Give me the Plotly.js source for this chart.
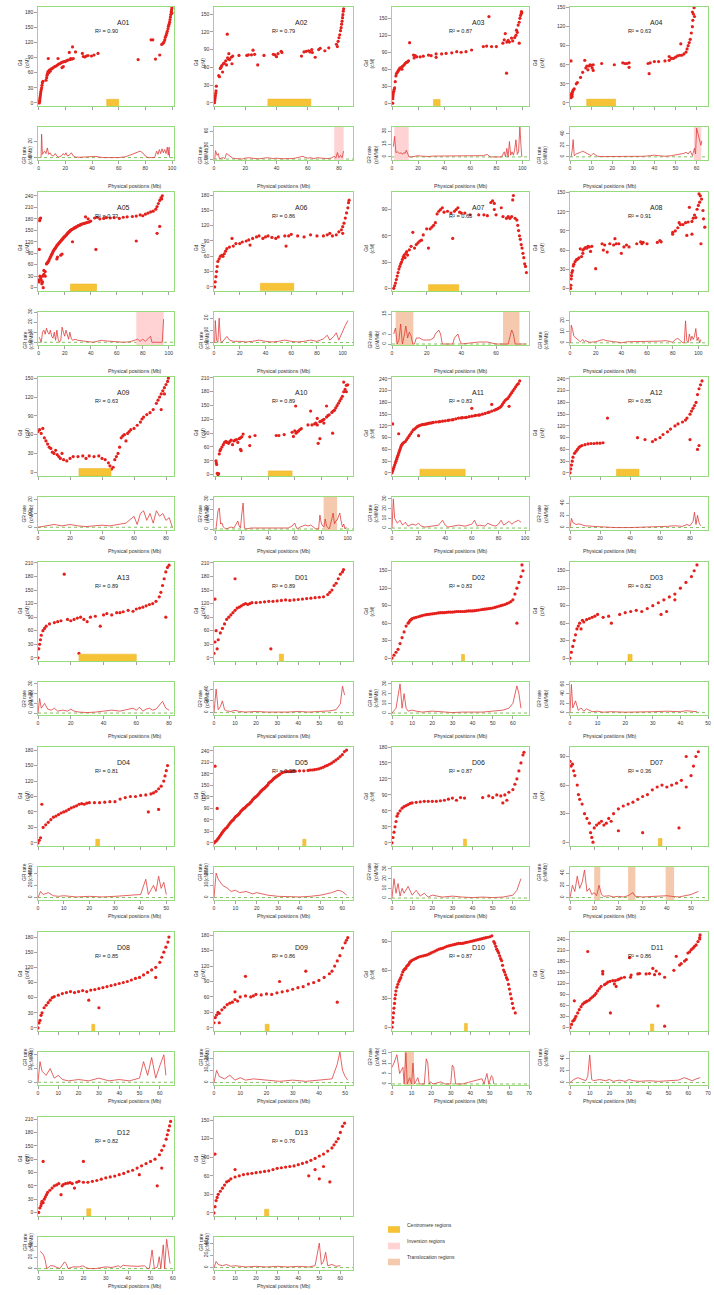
<!DOCTYPE html>
<html><head><meta charset="utf-8">
<script src="https://cdn.plot.ly/plotly-3.0.1.min.js"></script>
<style>body{margin:0;background:#fff}#c{width:714px;height:1295px}</style>
</head><body><div id="c"></div>
<script>
// ---------- DATA: scatter points [Mb, cM] and GR rate lines [Mb, cM/Mb] ----------
const A01 = [[0.5,0],[0.7,3],[0.8,6],[1,10],[1.2,14],[1.4,18],[1.6,22],[1.9,26],[2.2,30],[2.5,35],[2.8,40],[3.2,43],[5.5,45],[6,50],[6.3,55],[6.6,58],[7,62],[7.2,88],[7.6,60],[8,65],[8.7,63],[9.2,67],[10,68],[11,70],[12,72],[13,73],[14,75],[14.5,88],[15,77],[16,78],[17,80],[17.5,70],[18,81],[18.5,72],[19,82],[20,82],[21,84],[22,85],[23,100],[23.5,86],[24,88],[25,87],[25.4,111],[26,88],[27.6,101],[32.8,98],[33.5,92],[34.6,91],[35.8,93],[37,94],[39.6,93],[41.5,95],[44.5,98],[74.6,86],[84.3,125],[85.6,125],[87.6,87],[90.8,95],[92.3,116],[93.3,118],[94,121],[94.6,125],[95,130],[95.6,134],[96,138],[96.5,142],[97,147],[97.4,152],[97.8,156],[98.2,160],[98.5,165],[98.8,170],[99.1,175],[99.4,180],[99.7,184],[99.9,188],[100,178]];
const A01_gr = [[1.8,0],[2.2,29],[2.8,4],[3.5,6],[4.5,8],[5.5,5],[6.5,12],[7.5,4],[8.5,6],[9.5,3],[11,2],[12.5,5],[13.5,2],[15,0.5],[17,2],[18.5,5],[19.5,3],[20.5,6],[21.5,2],[23,3],[24.5,6],[26,2],[28,0.5],[32,0.5],[36,1],[40,2],[43,1.5],[46,0.5],[49,0],[60,0],[65,1],[70,4],[74,7],[76,8],[78,6],[80,2],[82,0],[87,0],[88.5,8],[89.5,4],[90.5,10],[91.5,5],[92.5,11],[93.5,6],[94.5,10],[95.5,5],[96.5,13],[97.2,3],[97.8,13],[98.2,0]];
const A02 = [[0.3,0],[0.5,4],[0.7,8],[0.9,12],[1.1,16],[1.3,20],[1.5,28],[3,46],[3.5,44],[4,58],[4.5,60],[5,63],[5.5,52],[6,66],[6.5,67],[7.5,71],[8,64],[8.5,116],[8.7,76],[9.2,74],[9.5,83],[10,73],[11,77],[11.5,66],[12,79],[16,80],[21,80],[22,81],[24,81],[25,89],[26,82],[28,64],[32,80],[38,82],[39,81],[40,78],[41,83],[43,87],[43.5,85],[56,79],[57.6,86],[59,87],[60.5,88],[61.5,86],[62.6,90],[63,85],[64.8,77],[67,90],[68,92],[71,88],[73.5,93],[78.4,99],[79,95],[79.5,104],[80,110],[80.5,115],[81,122],[81.4,127],[81.7,133],[82,138],[82.3,144],[82.5,149],[82.8,155],[83,159]];
const A02_gr = [[0.5,0],[1,18],[2,8],[2.8,12],[3.5,0],[4.5,2],[6,3],[7,1],[8,12],[9,9],[10,6],[11,4],[12,2],[14,1],[16,0.5],[18,0],[20,2],[22,3],[24,2],[26,1],[28,0.5],[30,1],[32,2],[34,3],[36,2],[38,1],[40,2],[42,1],[44,0.5],[46,1],[48,0.5],[50,1],[52,2],[55,4],[57,6],[58,4],[60,2],[62,3],[64,1],[66,3],[68,2],[70,0.5],[72,1],[75,2],[77,6],[78,2],[79,14],[80,3],[81,8],[82,3],[83,17]];
const A03 = [[0.5,0],[0.6,8],[0.7,12],[0.8,15],[1,18],[1.3,21],[1.6,24],[2,27],[2.5,38],[3,48],[3.3,52],[4,54],[4.5,56],[5,58],[5.5,60],[6,62],[7,63],[7.6,60],[8,65],[9,67],[10,70],[11,72],[12,73],[12.7,75],[13.5,107],[16.5,85],[17,80],[17.8,84],[19,82],[21.6,82],[24,83],[28,85],[30,84],[33.8,87],[33.8,81],[38,87],[41.5,88],[45.8,89],[49.6,91],[53,90],[56.7,91],[61,94],[70,100],[72.5,101],[74.3,153],[76.3,100],[80,100],[85,106],[86,112],[86.8,123],[87.8,53],[88,108],[89,111],[90,108],[91.6,115],[92.5,110],[94,116],[95,120],[95.4,129],[96,125],[96.7,138],[97.5,106],[97.5,143],[98,150],[98.5,155],[99,158],[99.2,162],[99.5,160]];
const A03_gr = [[1,12],[2,24],[3,5],[4,6],[5,5],[6,4],[7,5],[8,3],[9,5],[10,4],[11,8],[12,4],[13,0],[15,0],[18,1],[20,1.5],[22,1],[25,0.5],[28,0.5],[32,1],[36,1],[45,1],[55,1],[65,1],[70,1.5],[73,3],[75,0],[84,0],[86,6],[87,0],[88,10],[89,0],[90,18],[91,2],[92,6],[93,2],[94,8],[95,20],[96,3],[97,6],[98,35],[99,10],[99.5,0]];
const A04 = [[0.5,66],[0.5,8],[0.7,12],[0.8,15],[1,10],[1,13],[1.2,17],[1.5,20],[2,22],[3,30],[3.5,32],[5,40],[6,48],[7,67],[7.5,55],[8,58],[8.5,52],[9,58],[9.5,60],[10,59],[10.5,55],[11,51],[11,60],[15,62],[21,60],[25,63],[26,62],[27,62],[28,56],[28,63],[37,62],[37.5,46],[38,63],[40,65],[42,65],[45,66],[47,67],[47,73],[48,70],[49,70],[50,72],[51,74],[52,75],[52.5,93],[53,75],[54,77],[55,80],[55.5,85],[56,90],[56.5,95],[57,100],[57.5,110],[58,120],[58.2,130],[58.5,140],[58.8,150],[59,136],[58,143]];
const A04_gr = [[0.5,0],[1,10],[1.5,30],[2,2],[3,5],[4,6],[5,8],[6,10],[7,8],[8,5],[9,3],[10,2],[11,6],[12,3],[13,1],[15,0.5],[20,0.5],[25,0.5],[28,1],[29,0],[31,0.5],[35,1],[38,2],[40,3],[42,2],[45,1],[48,2],[50,3],[52,4],[54,6],[55,8],[56,5],[57,10],[58,2],[59,15],[59.5,5],[60,50],[61,35],[62,20],[62.5,28]];
const A05 = [[0,20],[0.5,15],[0.5,100],[0.8,175],[1,180],[1.5,182],[1,30],[1.5,25],[2,20],[2.5,10],[3,15],[3,30],[3.5,0],[4,35],[4,45],[5,42],[5,30],[6,62],[7,66],[8,72],[9,80],[10,87],[11,94],[12,100],[13,104],[14,110],[14,75],[14.5,80],[15,114],[16,118],[17,122],[17,85],[18,126],[18,88],[19,130],[20,134],[21,137],[22,141],[23,145],[24,148],[25,151],[26,153],[26,120],[27,155],[28,157],[29,159],[30,161],[31.6,163],[33,166],[35,168],[36,185],[37,170],[38,180],[39,172],[40,174],[43,182],[44,100],[45,184],[47,180],[50,181],[52,183],[55,182],[58,183],[62,181],[65,184],[68,185],[72,186],[75,122],[75,187],[78,190],[80,188],[82,192],[84,195],[86,198],[88,200],[90,205],[91,142],[91,212],[92,220],[93,160],[93,228],[94,235],[95,240],[94.5,232],[6.5,64],[7.5,69],[8.5,76],[9.5,83],[10.5,90],[11.5,97],[12.5,102],[13.5,107],[14.5,112],[15.5,116],[16.5,120],[17.5,124],[18.5,128],[19.5,132],[20.5,135],[21.5,139],[22.5,143],[23.5,146],[24.5,150],[25.5,152],[27.5,156],[28.5,158],[30.5,162],[32,165],[34,167],[36,169],[38,171]];
const A05_gr = [[0.5,5],[1,3],[2,0],[3,10],[4,12],[5,8],[6,14],[7,10],[8,8],[9,12],[10,6],[11,4],[12,10],[13,2],[14,12],[15,3],[16,0],[17,2],[18,15],[19,10],[20,6],[21,12],[22,8],[23,3],[24,10],[25,4],[26,2],[28,3],[30,2],[35,1],[38,0.5],[42,0],[45,1],[48,2],[50,1.5],[55,1],[60,0.5],[65,0],[70,0.5],[74,2],[76,3],[78,1],[80,3],[82,1],[84,4],[86,6],[87,0],[93,0],[95,0],[96,23]];
const A06 = [[0.5,0],[1,10],[1.5,20],[2,30],[2.5,40],[3,50],[4,55],[5,60],[6,62],[7,60],[8,65],[9,70],[10,75],[12,78],[14,95],[15,80],[17,85],[20,85],[22,88],[25,90],[27,92],[28,82],[30,95],[33,98],[35,100],[38,95],[40,98],[42,100],[45,97],[48,95],[50,98],[55,100],[56,80],[58,100],[60,103],[65,100],[70,98],[75,102],[80,100],[85,100],[88,102],[90,105],[92,100],[95,102],[97,108],[99,112],[100,118],[101,125],[102,135],[103,145],[104,155],[104.5,165],[105,170],[100,105]];
const A06_gr = [[0.5,0],[1,18],[2,2],[3,0],[4,20],[5,2],[6,0],[8,3],[10,5],[12,2],[15,1],[20,1],[25,0.5],[30,1],[35,2],[40,1],[45,0.5],[50,1],[55,2],[60,1],[65,0.5],[70,1],[75,2],[80,1],[85,3],[88,6],[90,2],[93,5],[95,8],[97,2],[100,10],[102,14],[104,18]];
const A07 = [[1,0],[1.5,3],[2,6],[2.5,10],[3,14],[3.5,18],[4,22],[4.5,25],[5,28],[5.5,30],[6,33],[6.5,36],[7,38],[7.5,35],[8,40],[8.5,42],[9,38],[10,44],[11,48],[12,64],[13,46],[14,50],[15,52],[16,54],[17,55],[18,61],[20,68],[21,46],[22,68],[23,70],[24,72],[25,75],[26,85],[27,88],[28,90],[29,92],[30,87],[32,88],[34,86],[35,57],[36,88],[37,90],[38,92],[39,87],[40,86],[42,86],[45,84],[50,84],[53,84],[55,83],[57,98],[58,100],[59,97],[59,90],[60,84],[63,92],[64,82],[66,80],[67,82],[68,80],[69,82],[69.6,101],[70,106],[71,80],[72,78],[72.5,72],[73,66],[73.5,60],[74,56],[74.5,50],[75,46],[75.5,40],[76,35],[76.5,28],[77,25],[77.5,18]];
const A07_gr = [[1,5],[2,8],[3,0],[4,2],[5,10],[6,0],[7,4],[8,9],[9,3],[10,6],[11,4],[12,0],[13,0],[14,3],[16,3],[18,2],[20,2],[22,2],[24,3],[25,5],[27,7],[28,5],[29,0],[35,0],[36,3],[37,4],[38,5],[39,2],[40,0],[45,0.5],[50,1],[55,1],[58,0.5],[60,0],[67,0],[68,4],[69,7],[70,5],[71,0],[73,0],[77,0]];
const A08 = [[0.5,0],[0.7,5],[1,15],[1.2,20],[1.5,25],[2,28],[2.5,35],[3,38],[4,42],[5,45],[6,46],[7,48],[8,62],[9,50],[10,55],[10,60],[11,62],[12,64],[13,63],[14,66],[15,65],[16,58],[17,66],[20,31],[25,70],[26,60],[27,68],[29,57],[31,70],[34,68],[35,78],[36,70],[38,70],[40,55],[42,65],[44,68],[46,65],[52,70],[55,73],[56,70],[57,72],[60,70],[68,72],[70,75],[71,73],[80,85],[80,88],[82,90],[84,95],[85,103],[86,100],[88,100],[90,103],[91,83],[92,104],[93,127],[95,85],[95,105],[96,110],[97,115],[98,111],[99,124],[100,130],[100.5,148],[101,135],[101.5,145],[102,70],[102.5,140],[103.6,122],[104,109],[105,96]];
const A08_gr = [[0.5,0],[1,16],[2,12],[3,6],[4,5],[5,4],[6,3],[7,2],[8,1],[9,2],[10,3],[11,1],[12,2],[14,1],[16,0.5],[20,1],[24,2],[26,3],[28,2],[30,1.5],[34,1],[38,0.5],[40,0],[45,1],[50,1],[55,1.5],[60,1],[65,1],[70,1.5],[75,2],[78,1],[80,0.5],[82,3],[84,4],[86,2],[88,0],[89,0],[90,20],[91,2],[92,0],[93,8],[94,2],[95,6],[96,3],[97,6],[98,13],[99,2],[100,5],[101,0],[102,3]];
const A09 = [[0,65],[1,68],[2,62],[3,70],[4,55],[5,50],[6,45],[7,40],[8,38],[9,32],[10,30],[11,35],[12,28],[13,25],[14,22],[15,30],[16,20],[18,18],[20,22],[22,25],[25,25],[28,26],[30,22],[32,26],[35,25],[38,26],[40,22],[42,20],[44,15],[45,10],[46,5],[47,8],[48,20],[49,25],[50,30],[51,40],[52,55],[53,58],[54,60],[55,50],[56,62],[57,65],[58,68],[60,70],[62,75],[64,80],[65,85],[66,88],[68,92],[70,95],[72,100],[74,110],[75,115],[76,120],[77,125],[78,130],[79,135],[80,140],[81,145],[81.5,150],[79,125],[77,100]];
const A09_gr = [[0,0],[5,1],[10,2],[15,1],[20,2],[25,1],[30,0.5],[35,1],[40,1.5],[45,1],[50,2],[55,3],[60,8],[62,2],[64,10],[66,12],[68,5],[70,10],[72,3],[74,12],[76,8],[78,10],[80,5],[82,7],[84,0]];
const A10 = [[0.5,30],[0.8,25],[1,22],[1.5,3],[2,0],[2.5,2],[3,45],[3.5,52],[4,55],[5,60],[6,65],[7,70],[8,72],[9,70],[10,68],[11,72],[12,75],[13,65],[14,73],[15,75],[16,76],[17,70],[18,78],[19,80],[19,55],[19.5,52],[20,82],[21,88],[26,82],[26,63],[30,85],[46,85],[48,85],[52,87],[58,92],[59,83],[60.7,149],[60,95],[61,90],[62,93],[63,95],[64,98],[65,100],[70,108],[72,138],[73,108],[75,110],[76,112],[77,108],[77,122],[77.7,68],[79,78],[79,115],[80,116],[81,118],[82,112],[82,120],[84,149],[84,125],[85,128],[86,130],[88.6,90],[88,135],[89,138],[90,140],[91,145],[92,150],[93,155],[94,160],[95,165],[96,170],[97,180],[97,201],[98,185],[99,194],[100,195],[99,180]];
const A10_gr = [[0.5,0],[2,18],[3,21],[4,5],[5,6],[6,2],[7,1],[8,0],[10,1],[12,2],[14,1],[16,5],[17,8],[18,3],[19,1],[20,15],[21,26],[22,1],[23,0],[27,1],[35,1],[45,1],[55,1],[58,3],[60,6],[61,2],[62,0],[64,2],[66,3],[68,4],[70,3],[72,4],[74,2],[76,0],[78,0],[79,14],[80,6],[81,3],[82,2],[83,10],[84,3],[86,0],[88,10],[89,16],[90,5],[91,8],[92,9],[93,12],[94,16],[95,8],[96,2],[97,5],[98,0],[99,2]];
const A11 = [[0,0],[0.5,5],[1,10],[1.5,15],[2,20],[2.5,25],[3,30],[4,40],[5,50],[6,60],[7,70],[8,75],[9,78],[10,80],[11,85],[12,90],[13,95],[14,100],[15,105],[16,110],[17,112],[18,115],[19,118],[20,120],[22,123],[24,124],[26,125],[28,127],[30,128],[33,130],[36,131],[40,133],[43,135],[46,136],[50,140],[53,141],[56,142],[60,145],[63,147],[66,148],[70,152],[73,155],[75,158],[78,162],[80,165],[82,170],[83,175],[84,180],[85,185],[87,190],[88,195],[89,200],[90,205],[91,210],[92,215],[93,220],[94,225],[95,228],[96,235],[0.5,125],[5,100],[20,95],[60,165],[75,175],[88,170],[21,121],[23,123.5],[25,124.5],[27,126],[29,127.5],[31,129],[35,130.5],[38,132],[42,134],[45,135.5],[48,138],[52,140.5],[55,141.5],[58,143.5],[62,146],[65,147.5],[68,150],[72,154],[77,160],[79,163],[81,167],[86,188],[3.5,35],[4.5,45],[5.5,55],[6.5,65],[7.5,72]];
const A11_gr = [[0,0],[1,30],[2,10],[4,5],[6,8],[8,3],[10,6],[12,2],[15,4],[18,3],[20,5],[22,2],[25,1],[30,2],[35,3],[38,8],[40,3],[42,1],[45,2],[50,3],[55,2],[60,4],[62,8],[64,2],[66,3],[70,2],[72,5],[75,3],[78,2],[80,4],[82,8],[84,3],[86,5],[88,7],[90,4],[92,6],[95,8],[97,6]];
const A12 = [[0,0],[0.5,10],[1,20],[1.5,30],[2,40],[3,50],[4,55],[5,60],[6,65],[7,68],[8,70],[10,72],[12,74],[14,75],[16,75],[18,76],[20,76],[22,77],[25,140],[45,90],[50,85],[55,80],[57,85],[60,90],[62,98],[65,105],[67,112],[70,120],[72,125],[75,130],[77,135],[78,140],[80,150],[81,158],[82,165],[83,172],[84,180],[85,200],[86,215],[87,225],[88,235],[80,85],[85,60],[86,70]];
const A12_gr = [[0,0],[1,15],[2,8],[4,5],[6,6],[8,4],[10,3],[15,2],[20,1],[25,0.5],[30,0],[40,0],[50,0.5],[60,1],[65,2],[70,3],[75,2],[78,5],[80,3],[82,10],[83,25],[84,5],[85,20],[86,8],[87,3]];
const A13 = [[0,0],[0.5,20],[1,30],[1.5,40],[2,50],[3,60],[4,65],[5,70],[7,75],[10,78],[12,80],[14,82],[16,185],[18,85],[20,82],[22,85],[24,88],[25,10],[26,90],[28,85],[30,80],[32,90],[35,92],[38,70],[40,95],[42,98],[45,95],[48,100],[50,100],[52,102],[55,105],[58,103],[60,108],[62,110],[64,112],[66,115],[68,118],[70,120],[72,125],[74,135],[75,145],[76,160],[77,175],[78,190],[79,200],[80,205],[78,90]];
const A13_gr = [[0,0],[1,15],[2,5],[4,10],[6,4],[8,3],[10,5],[12,2],[15,3],[18,2],[20,4],[22,2],[25,1],[30,0.5],[35,1],[40,2],[45,3],[50,2],[55,4],[58,5],[60,3],[62,6],[64,2],[66,4],[68,5],[70,3],[72,4],[74,8],[76,12],[78,5],[80,3]];
const D01 = [[0,10],[0.5,35],[0.5,130],[1,60],[1.5,20],[2,40],[3,55],[4,65],[5,75],[6,85],[7,90],[8,95],[9,100],[10,105],[10,175],[11,110],[12,112],[13,115],[14,118],[15,120],[16,118],[17,120],[18,122],[20,122],[22,123],[24,124],[26,125],[27,20],[28,125],[30,126],[32,127],[34,128],[36,127],[38,128],[40,129],[42,130],[44,131],[46,132],[48,133],[50,134],[52,135],[54,140],[55,145],[56,150],[57,160],[58,165],[59,175],[60,185],[61,190],[61.5,195]];
const D01_gr = [[0,0],[1,40],[2,5],[3,10],[4,20],[5,5],[6,3],[8,2],[10,4],[12,2],[15,1],[20,2],[25,1],[30,0.5],[35,1],[40,2],[45,1],[50,2],[55,3],[58,5],[60,15],[61,45],[62,30]];
const D02 = [[0,0],[1,5],[2,10],[3,15],[4,25],[5,35],[6,45],[7,55],[8,60],[9,65],[10,68],[12,70],[14,72],[16,74],[18,75],[20,76],[22,77],[24,78],[26,78],[28,79],[30,79],[32,80],[34,80],[36,80],[38,81],[40,81],[42,82],[44,83],[46,84],[48,85],[50,86],[52,88],[54,90],[56,92],[58,95],[60,100],[61,110],[62,120],[63,130],[64,140],[65,150],[64.5,160],[62,60],[8.5,62],[9.5,66],[11,69],[13,71],[15,73],[17,74.5],[19,75.5],[21,76.5],[23,77.5],[25,78],[27,78.5],[29,79],[31,79.5],[33,80],[35,80],[37,80.5],[39,81],[41,81.5],[43,82.5],[45,83.5],[47,84.5],[49,85.5],[51,87],[53,89],[55,91],[57,93.5],[59,97]];
const D02_gr = [[0,0],[2,5],[4,30],[5,5],[6,20],[7,5],[8,2],[10,3],[12,2],[15,1],[20,2],[25,1],[30,0.5],[35,1],[40,1],[45,1],[50,2],[55,3],[58,5],[60,10],[62,28],[63,20],[64,5]];
const D03 = [[0,0],[0.5,10],[1,20],[1.5,30],[2,40],[2.5,50],[3,55],[3.5,60],[4,50],[4.5,65],[5,62],[6,66],[7,68],[8,70],[9,72],[10,75],[12,70],[14,72],[15,60],[18,75],[20,78],[22,80],[24,82],[26,80],[28,85],[30,90],[32,95],[33,75],[34,100],[35,80],[36,105],[38,110],[38,100],[40,120],[42,130],[44,140],[45,150],[46,160]];
const D03_gr = [[0,0],[0.5,60],[1,10],[2,25],[3,5],[4,10],[5,3],[6,8],[8,2],[10,3],[12,1],[15,2],[20,1],[25,1],[30,2],[35,3],[40,2],[42,4],[44,3],[46,2]];
const D04 = [[0,0],[0.5,5],[1,10],[1.5,75],[2,30],[3,35],[4,40],[5,45],[6,50],[7,52],[8,55],[9,58],[10,60],[11,62],[12,65],[13,68],[14,70],[15,72],[16,75],[17,76],[18,75],[19,77],[20,78],[22,78],[24,78],[26,79],[28,80],[30,80],[32,85],[34,88],[36,90],[38,90],[40,92],[42,93],[43,60],[44,95],[45,97],[46,100],[47,105],[47,65],[48,110],[49,120],[49.5,130],[50,140],[50.5,150]];
const D04_gr = [[0,0],[1,10],[2,5],[4,8],[6,3],[8,2],[10,3],[12,2],[15,1],[20,2],[25,1],[30,2],[35,3],[40,5],[42,30],[43,5],[45,20],[46,10],[47,35],[48,15],[49,25],[50,5]];
const D05 = [[0,0],[0.5,200],[1,5],[1.5,90],[2,12],[3,20],[4,28],[5,35],[6,40],[7,48],[8,55],[9,60],[10,68],[11,72],[12,78],[13,85],[14,90],[15,95],[16,100],[17,105],[18,112],[19,118],[20,122],[21,128],[22,135],[23,140],[24,145],[25,150],[26,158],[27,162],[28,168],[29,172],[30,176],[31,180],[32,183],[33,185],[35,186],[38,187],[40,188],[42,188],[44,189],[46,190],[48,192],[50,195],[52,200],[54,205],[56,212],[58,220],[60,230],[61,238],[62,242],[0.5,3],[1.5,8],[2.5,16],[3.5,24],[4.5,32],[5.5,38],[6.5,44],[7.5,52],[8.5,58],[9.5,64],[10.5,70],[11.5,75],[12.5,82],[13.5,88],[14.5,92],[15.5,98],[16.5,102],[17.5,108],[18.5,115],[19.5,120],[20.5,125],[21.5,132],[22.5,138],[23.5,142],[24.5,148],[25.5,155],[26.5,160],[27.5,165],[28.5,170],[29.5,174],[30.5,178],[34,186],[36,186],[37,187],[45,190],[47,191],[49,193],[51,197],[53,202],[55,208],[57,216],[59,225]];
const D05_gr = [[0,0],[1,20],[2,15],[4,10],[6,8],[8,5],[10,6],[12,4],[15,5],[18,3],[20,4],[22,3],[25,2],[30,1],[35,0.5],[40,0.5],[45,1],[50,2],[55,4],[58,6],[60,5],[62,2]];
const D06 = [[0,0],[0.5,10],[1,20],[1.5,30],[2,40],[2.5,50],[3,55],[4,60],[5,65],[6,68],[7,70],[8,72],[9,74],[10,75],[12,76],[14,77],[16,78],[18,78],[20,78],[22,78],[24,79],[26,80],[28,82],[30,84],[32,80],[34,85],[36,84],[45,85],[48,88],[50,85],[52,90],[54,88],[55,75],[56,90],[57,80],[58,95],[60,100],[61,110],[62,120],[63,135],[64,150],[65,165],[65.5,170]];
const D06_gr = [[0,0],[1,20],[2,5],[3,15],[4,2],[5,10],[6,5],[8,12],[10,3],[12,8],[14,2],[16,5],[18,1],[20,3],[25,1],[30,2],[35,1],[40,0.5],[45,1],[50,0.5],[55,1],[60,3],[62,8],[64,20]];
const D07 = [[0,85],[0.5,80],[1,82],[1.5,75],[2,70],[3,60],[3.5,50],[4,45],[5,40],[6,30],[7,25],[8,20],[8.5,10],[9,5],[9.5,0],[10,15],[11,18],[12,20],[13,22],[14,18],[15,20],[16,25],[17,22],[18,30],[20,35],[20,12],[22,38],[24,40],[26,42],[28,45],[30,48],[30,10],[32,50],[34,55],[36,58],[38,60],[40,58],[42,60],[44,62],[45,15],[46,65],[48,58],[48,90],[50,70],[51,80],[52,90],[53,95]];
const D07_gr = [[0,0],[1,20],[2,10],[3,35],[4,15],[5,25],[6,45],[7,10],[8,15],[9,5],[10,8],[11,3],[12,20],[13,5],[14,2],[16,3],[18,1],[20,2],[22,1],[24,3],[26,8],[27,2],[30,1],[35,2],[40,3],[42,2],[45,1],[50,5],[52,8],[53,10]];
const D08 = [[0,0],[0.5,10],[1,15],[1.5,25],[2,30],[3,40],[4,45],[5,50],[6,55],[7,60],[8,62],[10,65],[12,68],[14,70],[16,72],[18,70],[20,72],[22,74],[24,72],[25,55],[26,75],[28,76],[30,78],[30,40],[32,80],[34,82],[36,84],[38,86],[40,88],[42,90],[44,92],[46,95],[48,98],[50,100],[52,105],[54,110],[56,115],[58,120],[58,100],[60,130],[61,140],[62,150],[63,160],[64,170],[64.5,180]];
const D08_gr = [[0,0],[1,15],[2,8],[4,5],[6,10],[8,3],[10,5],[12,2],[15,1],[20,2],[25,1],[30,3],[35,1],[40,2],[45,1],[50,3],[52,15],[54,5],[56,18],[58,3],[60,12],[62,20],[63,5]];
const D09 = [[0,10],[0.5,20],[1,25],[1.5,30],[2,28],[2,10],[3,35],[4,40],[5,45],[6,48],[7,50],[8,55],[8,70],[9,52],[10,60],[12,62],[12,100],[14,60],[15,62],[16,65],[18,64],[20,66],[22,65],[24,68],[25,90],[26,70],[28,72],[30,75],[32,78],[34,80],[35,110],[36,85],[38,88],[40,92],[42,98],[44,105],[45,110],[46,120],[47,130],[47,50],[48,140],[49,155],[50,165],[50.5,170],[51,175]];
const D09_gr = [[0,0],[1,10],[2,5],[4,3],[6,6],[8,2],[10,4],[12,2],[15,3],[20,2],[25,1],[30,2],[35,1],[40,2],[45,3],[47,15],[48,25],[49,10],[50,5],[51,2]];
const D10 = [[0,0],[0.5,10],[1,20],[1.5,30],[2,38],[3,45],[4,50],[5,55],[6,60],[7,62],[8,65],[9,68],[10,70],[12,72],[14,74],[16,75],[18,76],[20,78],[22,80],[24,82],[26,83],[28,85],[30,86],[32,87],[34,88],[36,88],[38,89],[40,90],[42,91],[44,92],[46,93],[48,94],[50,95],[51,96],[52,90],[53,85],[54,80],[55,75],[56,70],[57,60],[58,55],[59,50],[60,40],[61,30],[62,20],[63,15],[0.3,5],[0.8,15],[1.3,25],[1.8,34],[2.5,42],[3.5,48],[4.5,52],[5.5,58],[6.5,61],[7.5,64],[8.5,66],[9.5,69],[11,71],[13,73],[15,74.5],[17,75.5],[19,77],[21,79],[23,81],[25,82.5],[27,84],[29,85.5],[31,86.5],[33,87.5],[35,88],[37,88.5],[39,89.5],[41,90.5],[43,91.5],[45,92.5],[47,93.5],[49,94.5],[52.5,88],[53.5,82],[54.5,78],[55.5,72],[56.5,65],[57.5,58],[58.5,52],[59.5,45],[60.5,35],[61.5,25]];
const D10_gr = [[0,8],[1,10],[2.5,14],[3.9,5],[5.6,8],[6.2,0],[7.1,15],[7.8,0],[9,3],[10,0],[10.7,10],[11.5,0],[13.2,3],[14,0],[16.5,0],[17.5,12],[18.3,10],[19,0],[19.6,1],[21,0],[25,1],[27,0],[30,0],[30.8,9],[31.5,8],[32.5,0],[36,0],[38,0.5],[40,1],[42,1.5],[44,2],[46,2.5],[47,0],[48.5,5],[49.5,0],[50.8,4],[51.5,3],[52,0]];
const D11 = [[0,0],[0.8,9],[1.4,18],[2.2,73],[3,31],[3.9,40],[4.7,49],[5.6,57],[6.4,64],[7.3,68],[9,207],[9.8,75],[11.5,84],[13.2,93],[14.9,106],[15.8,112],[16.6,146],[16.6,153],[17.5,117],[19.2,124],[20.5,40],[21.7,128],[22.5,119],[23.4,112],[24.2,130],[25,132],[26,135],[27.6,137],[30.2,190],[30.7,137],[31,143],[34.4,146],[35.3,147],[38.6,146],[40.3,147],[42,161],[42.9,144],[43.7,154],[44.6,59],[45.4,146],[48,137],[48,4],[52.7,156],[53.9,194],[55.6,170],[56.4,174],[58.1,181],[59,185],[59.8,203],[60.7,206],[61.5,212],[62.4,216],[63.2,221],[64,225],[64.9,234],[65.8,241],[66,252],[65.8,245],[2,20],[2.5,25],[8,70],[8.6,72],[10.6,80],[12.4,88],[14,100],[18.4,120],[20.3,126],[23,128]];
const D11_gr = [[0,0],[2,5],[4,8],[6,5],[8,3],[9,10],[10,45],[11,5],[12,3],[15,5],[18,3],[20,5],[22,2],[25,4],[28,2],[30,5],[32,3],[35,2],[40,3],[45,2],[50,3],[55,4],[58,8],[60,5],[62,3],[64,6],[66,8]];
const D12 = [[0,0],[0.5,10],[1,15],[1.2,20],[1.5,25],[2,22],[2,115],[2.5,30],[3,35],[3.5,40],[4,45],[5,50],[6,55],[7,60],[8,62],[9,65],[10,40],[10.5,60],[11,63],[12,65],[13,66],[14,67],[15,65],[16,55],[17,68],[18,70],[20,115],[20,68],[22,68],[24,70],[26,72],[28,75],[30,78],[32,80],[34,82],[36,85],[38,88],[40,92],[42,95],[44,100],[45,85],[46,105],[48,110],[50,115],[52,120],[53,60],[54,130],[55,100],[55,140],[56,150],[57,165],[57.5,175],[58,185],[58.5,195],[59,205]];
const D12_gr = [[0.7,31],[2.2,24],[2.9,15],[3.6,0],[4.4,2],[5.1,5],[6.5,5],[8,2],[9.5,0],[11.6,12],[12.4,8],[13.1,0],[15.3,3],[18.2,3],[19.7,5],[21,2],[22.5,0],[25.5,0],[28.4,2],[29.8,3],[32.8,2],[35.7,5],[36.4,2],[37.8,6],[39.3,5],[41.5,4],[44.4,4],[47.3,5],[48.8,0],[49.5,0],[50.7,33],[51.7,0],[53.1,3],[53.9,21],[54.6,0],[55.7,42],[56.3,0],[57.2,52],[58.2,27],[58.7,9]];
const D13 = [[0,0],[0.5,10],[0.5,95],[1,20],[1.5,25],[2,30],[3,35],[4,40],[5,45],[6,50],[7,52],[8,55],[10,58],[10,70],[12,60],[14,62],[16,63],[18,64],[20,65],[22,66],[24,67],[26,68],[28,70],[30,72],[32,73],[34,74],[36,75],[38,76],[40,78],[42,80],[44,82],[45,60],[46,85],[48,88],[48,70],[50,92],[50,55],[52,95],[52,75],[54,100],[55,50],[56,105],[57,110],[58,115],[59,120],[60,130],[61,140],[62,145]];
const D13_gr = [[0,0],[1,10],[2,5],[4,3],[6,5],[8,2],[10,3],[15,1],[20,2],[25,1],[30,2],[35,1],[40,2],[45,1],[48,3],[50,40],[51,5],[52,10],[53,25],[54,3],[56,5],[58,2],[60,3]];

const names = ['A01','A02','A03','A04','A05','A06','A07','A08','A09','A10','A11','A12','A13','D01','D02','D03','D04','D05','D06','D07','D08','D09','D10','D11','D12','D13'];
const r2Values = ['0.90','0.79','0.87','0.63','0.73','0.86','0.65','0.91','0.63','0.89','0.83','0.85','0.89','0.89','0.83','0.82','0.81','0.98','0.87','0.36','0.85','0.86','0.87','0.86','0.82','0.76'];
const scatterData = [A01,A02,A03,A04,A05,A06,A07,A08,A09,A10,A11,A12,A13,D01,D02,D03,D04,D05,D06,D07,D08,D09,D10,D11,D12,D13];
const grData = [A01_gr,A02_gr,A03_gr,A04_gr,A05_gr,A06_gr,A07_gr,A08_gr,A09_gr,A10_gr,A11_gr,A12_gr,A13_gr,D01_gr,D02_gr,D03_gr,D04_gr,D05_gr,D06_gr,D07_gr,D08_gr,D09_gr,D10_gr,D11_gr,D12_gr,D13_gr];
// centromere regions [start, end] Mb
const centromeres = [[51,60],[34.5,62],[31.8,36.9],[7.9,21.6],[24.4,44.5],[36,62],[21,38.5],null,[25.6,45.6],[40,58],[21,55],[31,46],[25,60],[31,33],[34.5,36],[21,22.5],[22.5,24],[41.5,43],[35.5,37],[36.5,38],[26.5,28],[19.5,21],[37,38.5],[40.8,42.5],[21.5,23.3],[24,26]];
// inversion regions
const inversions = {A02:[[77,83]],A03:[[1.8,12.8]],A04:[[58.7,62.2]],A05:[[75,96]]};
// translocation regions
const translocations = {A07:[[2.1,12.3],[64,73.5]],A10:[[81.8,92]],D07:[[10,12.5],[24,27],[39.5,43]],D10:[[6.4,11.2]]};

// axis settings per panel
const axisCfg = {
 A01:{xr:[-0.5,101.5],dx:20,yr:[-6,190],dy:30,gyr:[-3,38],gdy:20},
 A02:{xr:[0,89],dx:20,yr:[-5.5,162],dy:30,gyr:[-2,69],gdy:30},
 A03:{xr:[0,105],dx:20,yr:[-5,170],dy:30,gyr:[-3.6,35],gdy:15},
 A04:{xr:[0,65.4],dx:10,yr:[-5,151],dy:30,gyr:[-5.5,52],gdy:20},
 A05:{xr:[-0.5,104],dx:20,yr:[-8.7,250],dy:30,gyr:[-2.7,30],gdy:10},
 A06:{xr:[0,108],dx:20,yr:[-8,186],dy:30,gyr:[-2,25],gdy:10},
 A07:{xr:[0,79],dx:20,yr:[-3,110],dy:30,gyr:[-0.5,16],gdy:5,gtv:[0,5,15]},
 A08:{xr:[0,107.5],dx:20,yr:[-4,151],dy:30,gyr:[-2,28],gdy:10},
 A09:{xr:[0,85],dx:20,yr:[-6,152],dy:30,gyr:[-2,22],gdy:10},
 A10:{xr:[-1,104],dx:20,yr:[-3,212],dy:30,gyr:[-1,32],gdy:10},
 A11:{xr:[0,103],dx:20,yr:[-8,245],dy:30,gyr:[-2,32],gdy:10},
 A12:{xr:[0,92],dx:20,yr:[-8,245],dy:30,gyr:[-4,50],gdy:20},
 A13:{xr:[0,83],dx:20,yr:[-7,212],dy:30,gyr:[-2,32],gdy:10},
 D01:{xr:[0,66],dx:10,yr:[-7,212],dy:30,gyr:[-4,52],gdy:20},
 D02:{xr:[0,68],dx:10,yr:[-5,165],dy:30,gyr:[-2,32],gdy:10},
 D03:{xr:[0,50],dx:10,yr:[-5,165],dy:30,gyr:[-5,65],gdy:20},
 D04:{xr:[0,53],dx:10,yr:[-6,186],dy:30,gyr:[-4,50],gdy:20},
 D05:{xr:[0,65],dx:10,yr:[-8,250],dy:30,gyr:[-2,25],gdy:10},
 D06:{xr:[0,68],dx:10,yr:[-6,180],dy:30,gyr:[-2,32],gdy:10},
 D07:{xr:[0,57],dx:10,yr:[-4,100],dy:30,gyr:[-4,50],gdy:20},
 D08:{xr:[0,67],dx:10,yr:[-6,190],dy:30,gyr:[-2,22],gdy:10},
 D09:{xr:[0,53],dx:10,yr:[-6,186],dy:30,gyr:[-2,25],gdy:10},
 D10:{xr:[0,70],dx:10,yr:[-4,100],dy:30,gyr:[-0.5,15.3],gdy:5},
 D11:{xr:[0,70],dx:10,yr:[-9,260],dy:30,gyr:[-4,50],gdy:20},
 D12:{xr:[-0.3,60.5],dx:10,yr:[-8,215],dy:30,gyr:[-2.5,56],gdy:20},
 D13:{xr:[0,66],dx:10,yr:[-5,155],dy:30,gyr:[-4,50],gdy:20}
};

// ---------- LAYOUT ----------
const W=714,H=1295;
const colL=[38,214,392,570], colR=[174,353,529,708];
const GREEN='#97dc7c', RED='#e4201c', LINE='#e03c3c';
const CEN='#f7c336', INV='#ffd3d3', TRA='#f4c9ad';
const FONT='Liberation Sans, Arial, sans-serif';
const layout={width:W,height:H,margin:{l:0,r:0,t:0,b:0},showlegend:false,
  paper_bgcolor:'#fff',plot_bgcolor:'rgba(0,0,0,0)',
  font:{family:FONT,size:5,color:'#333'},shapes:[],annotations:[]};
const traces=[];
const sfx=n=>n===1?'':String(n);

names.forEach((nm,i)=>{
  const cfg=axisCfg[nm];
  const r=Math.floor(i/4), c=i%4;
  const T=7+185*r;
  const sId=2*i+1, gId=2*i+2;
  const xs='x'+sfx(sId), ys='y'+sfx(sId), xg='x'+gId, yg='y'+gId;
  const xd=[colL[c]/W,colR[c]/W];
  const common={showline:true,linecolor:GREEN,linewidth:1.2,mirror:true,ticks:'outside',ticklen:2.5,
    tickwidth:0.6,tickcolor:'#666',showgrid:false,zeroline:false,tickfont:{family:FONT,size:5,color:'#333'},fixedrange:true,ticklabeloverflow:'allow'};
  layout['xaxis'+sfx(sId)]=Object.assign({},common,{domain:xd,range:cfg.xr,dtick:cfg.dx,tick0:0,showticklabels:false,anchor:ys});
  layout['yaxis'+sfx(sId)]=Object.assign({},common,{domain:[1-(T+99)/H,1-T/H],range:cfg.yr,dtick:cfg.dy,tick0:0,anchor:xs});
  layout['xaxis'+gId]=Object.assign({},common,{domain:xd,range:cfg.xr,dtick:cfg.dx,tick0:0,anchor:yg});
  const gy=Object.assign({},common,{domain:[1-(T+153)/H,1-(T+120)/H],range:cfg.gyr,dtick:cfg.gdy,tick0:0,tickangle:-90,anchor:xg});
  if(cfg.gtv){gy.tickmode='array';gy.tickvals=cfg.gtv;gy.ticktext=cfg.gtv.map(String);}
  layout['yaxis'+gId]=gy;

  (inversions[nm]||[]).forEach(s=>layout.shapes.push({type:'rect',layer:'below',xref:xg,yref:yg,x0:s[0],x1:s[1],y0:cfg.gyr[0],y1:cfg.gyr[1],fillcolor:INV,line:{width:0}}));
  (translocations[nm]||[]).forEach(s=>layout.shapes.push({type:'rect',layer:'below',xref:xg,yref:yg,x0:s[0],x1:s[1],y0:cfg.gyr[0],y1:cfg.gyr[1],fillcolor:TRA,line:{width:0}}));
  layout.shapes.push({type:'line',layer:'below',xref:xg+' domain',yref:yg,x0:0,x1:1,y0:0,y1:0,line:{color:'#7fc45e',width:1,dash:'dot'}});
  const cen=centromeres[i];
  if(cen){
    const h=3.7/99*(cfg.yr[1]-cfg.yr[0]);
    layout.shapes.push({type:'rect',layer:'above',xref:xs,yref:ys,x0:cen[0],x1:cen[1],y0:-h,y1:h,fillcolor:CEN,line:{color:'#eab21e',width:0.5}});
  }
  traces.push({type:'scatter',mode:'markers',x:scatterData[i].map(d=>d[0]),y:scatterData[i].map(d=>d[1]),
    xaxis:xs,yaxis:ys,marker:{size:3.2,color:RED},hoverinfo:'skip'});
  traces.push({type:'scatter',mode:'lines',x:grData[i].map(d=>d[0]),y:grData[i].map(d=>d[1]),
    xaxis:xg,yaxis:yg,line:{color:LINE,width:0.8},hoverinfo:'skip'});

  layout.annotations.push({xref:xs+' domain',yref:ys+' domain',x:0.63,y:0.9,text:nm,showarrow:false,font:{family:FONT,size:7,color:'#222'}});
  layout.annotations.push({xref:xs+' domain',yref:ys+' domain',x:0.5,y:0.81,text:'R\u00b2 = '+r2Values[i],showarrow:false,font:{family:FONT,size:5.6,color:'#222'}});
  layout.annotations.push({xref:'paper',yref:'paper',x:(colL[c]-23)/W,y:1-(T+49.5)/H,text:'Gd<br>(cM)',textangle:-90,showarrow:false,font:{family:FONT,size:5,color:'#333'}});
  layout.annotations.push({xref:'paper',yref:'paper',x:(colL[c]-19)/W,y:1-(T+136.5)/H,text:'GR rate<br>(cM/Mb)',textangle:-90,showarrow:false,font:{family:FONT,size:5,color:'#333'}});
  layout.annotations.push({xref:'paper',yref:'paper',x:(colL[c]+colR[c])/2/W,y:1-(T+174)/H,text:'Physical positions (Mb)',showarrow:false,font:{family:FONT,size:5.2,color:'#333'}});
});

const legendItems=[['Centromere regions',CEN,1229.5],['Inversion regions',INV,1246],['Translocation regions',TRA,1262]];
legendItems.forEach(it=>{
  layout.shapes.push({type:'rect',xref:'paper',yref:'paper',x0:388/W,x1:400/W,y0:1-(it[2]+3.3)/H,y1:1-(it[2]-3.3)/H,fillcolor:it[1],line:{width:0}});
  layout.annotations.push({xref:'paper',yref:'paper',x:405/W,y:1-it[2]/H,xanchor:'left',text:it[0],showarrow:false,font:{family:FONT,size:5,color:'#333'}});
});

Plotly.newPlot('c',traces,layout,{staticPlot:true,displayModeBar:false});
</script></body></html>
